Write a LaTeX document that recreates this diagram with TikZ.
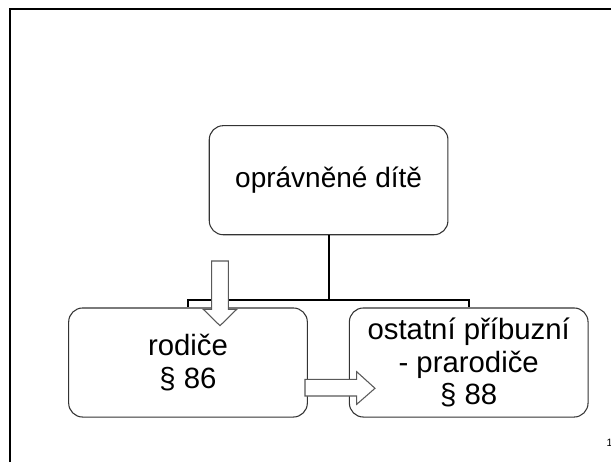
\documentclass[tikz,border=0pt]{standalone}
\usepackage{fontspec}
\setmainfont{Liberation Sans}
\begin{document}
\begin{tikzpicture}[x=0.75pt,y=-0.75pt,
  orgbox/.style={draw=black!80,line width=0.8pt,rounded corners=10.5pt,fill=white,
    minimum width=179pt,minimum height=81.8pt,inner sep=0pt,align=center},
  toptext/.style={font=\fontsize{21}{25}\selectfont},
  childtext/.style={font=\fontsize{22}{24.4}\selectfont},
  link/.style={draw=black,line width=1.5pt},
  blockarrow/.style={draw=black!65,line width=0.8pt,fill=white,line join=miter}]
\useasboundingbox (0,0) rectangle (611,462);
\fill[white] (0,0) rectangle (611,462);
% frame
\draw[black,line width=2pt] (10,462) -- (10,9) -- (611,9);
% boxes
\node[orgbox,toptext] (top) at (328.6,180.2) {oprávněné dítě};
\node[orgbox,childtext] (left) at (188,362.5) {rodiče\\§ 86};
\node[orgbox,childtext] (right) at (468.7,362.5) {ostatní příbuzní\\- prarodiče\\§ 88};
% connectors
\coordinate (mid) at (328.6,300);
\draw[link] (top.south) -- (mid);
\draw[link] (mid) -| (left.north);
\draw[link] (mid) -| (right.north);
% block arrows
\draw[blockarrow] (211.7,261) -- (228.3,261) -- (228.3,309.3) -- (236.7,309.3)
  -- (220,325.7) -- (203.3,309.3) -- (211.7,309.3) -- cycle;
\draw[blockarrow] (305,379.3) -- (356.7,379.3) -- (356.7,371.7) -- (375,388.3)
  -- (356.7,404.3) -- (356.7,396) -- (305,396) -- cycle;
% page number
\node[font=\fontsize{8}{10}\selectfont,inner sep=0pt] (pg) at (609.5,443) {1};
\end{tikzpicture}
\end{document}
